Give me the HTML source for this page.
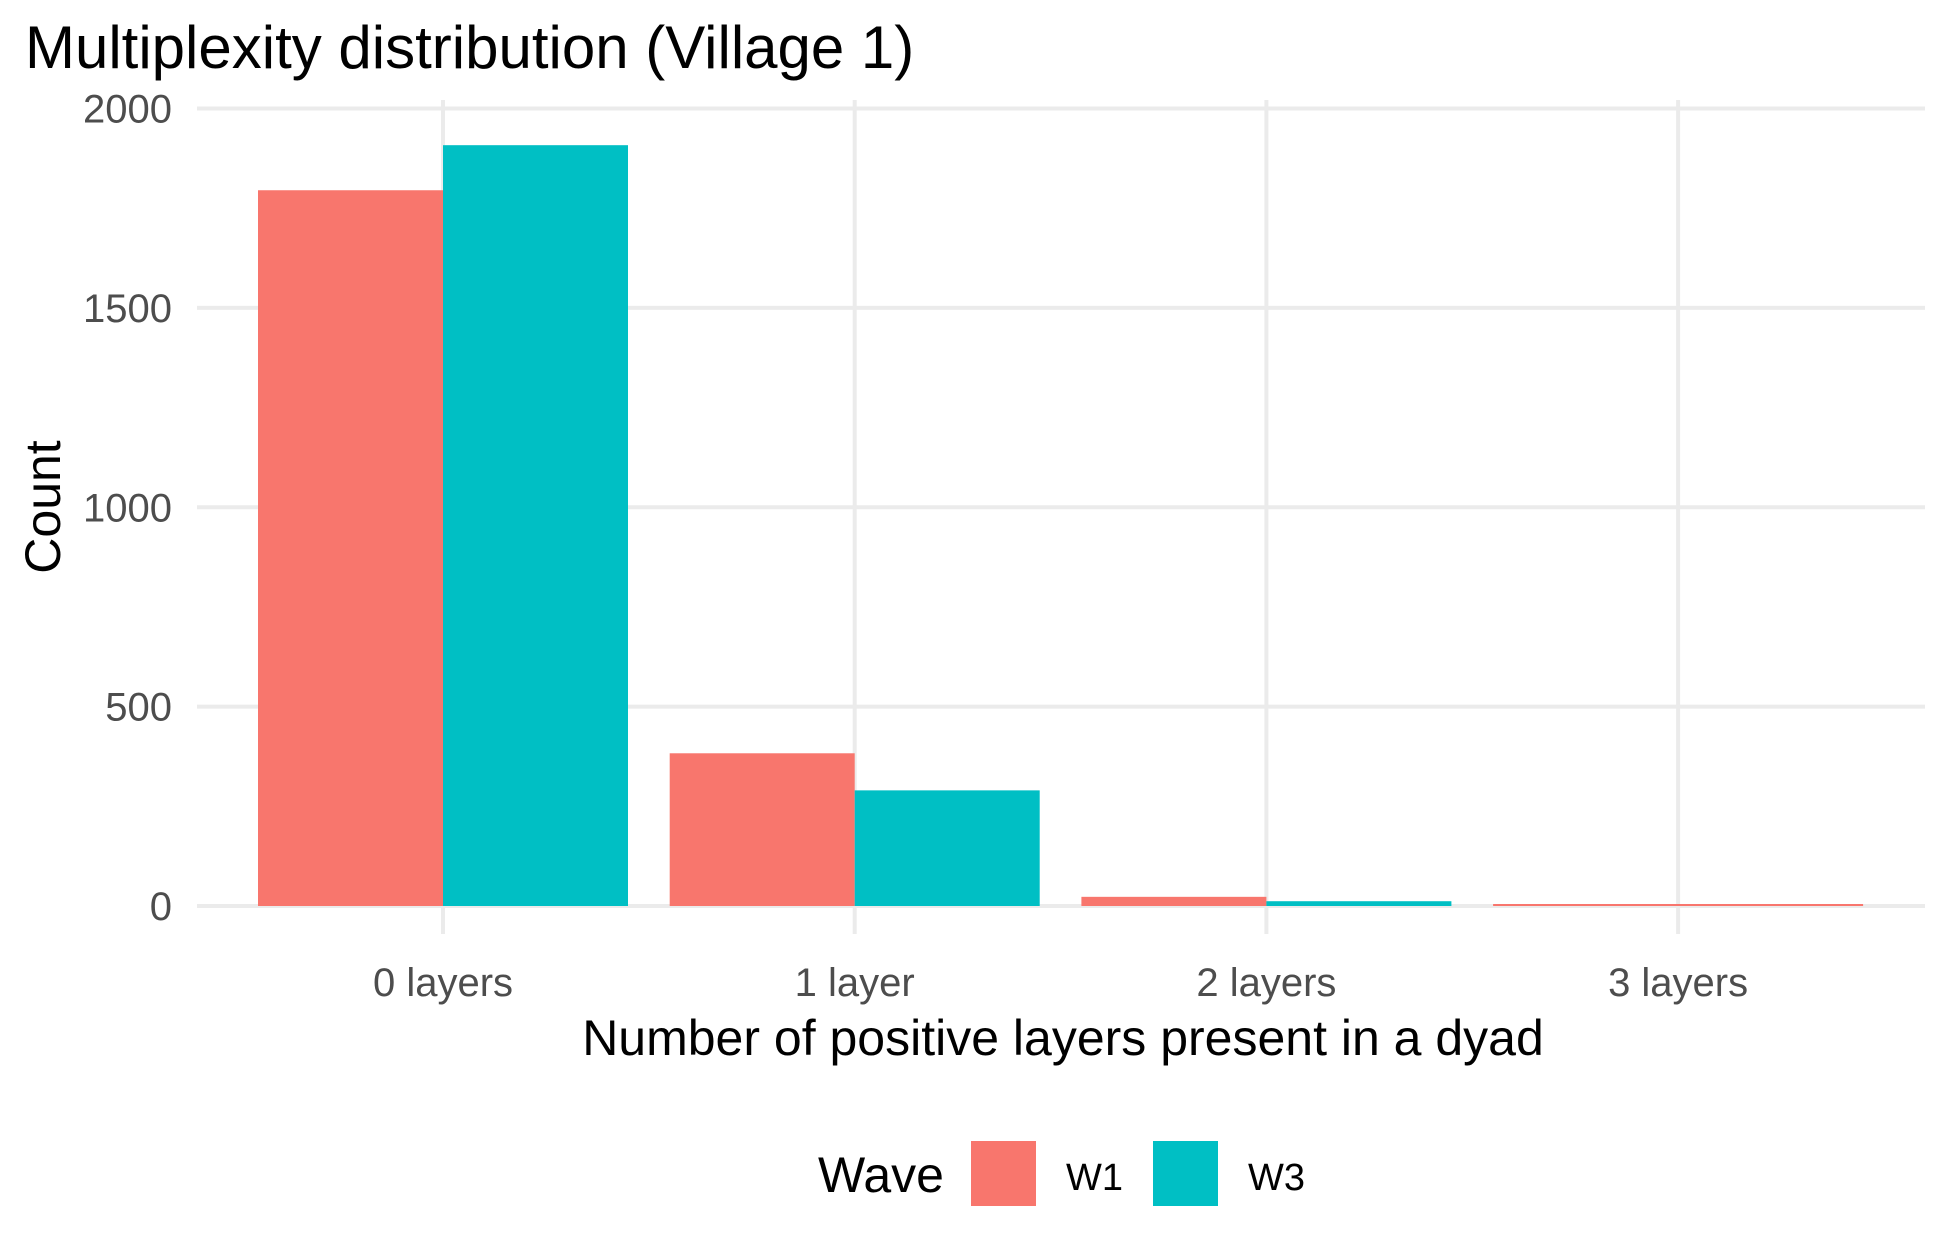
<!DOCTYPE html>
<html><head><meta charset="utf-8"><style>
body{margin:0;background:#fff}
svg{display:block;font-family:"Liberation Sans",Arial,sans-serif}
</style></head><body>
<svg id="chart" width="1950" height="1260" xmlns="http://www.w3.org/2000/svg">
<text x="25" y="68" font-size="60" fill="#000">Multiplexity distribution (Village 1)</text>
<g id="grid"></g><g id="bars"></g><g id="ticks"></g>
<text x="1063" y="1055" font-size="50" text-anchor="middle" fill="#000">Number of positive layers present in a dyad</text>
<text transform="translate(60,507) rotate(-90)" font-size="50" text-anchor="middle" fill="#000">Count</text>
<g>
<text x="818" y="1192" font-size="50" fill="#000">Wave</text>
<rect x="971" y="1141" width="65" height="65" fill="#F8766D"/>
<text x="1066" y="1190" font-size="38" fill="#000">W1</text>
<rect x="1153" y="1141" width="65" height="65" fill="#00BFC4"/>
<text x="1248" y="1190" font-size="38" fill="#000">W3</text>
</g>
</svg>
<script>
const categories = ["0 layers","1 layer","2 layers","3 layers"];
const seriesW1 = [1795, 383, 23, 5];
const seriesW3 = [1908, 290, 12, null];
const yTicks = [0, 500, 1000, 1500, 2000];
const NS="http://www.w3.org/2000/svg";
const x0=443, step=411.7, plotL=197, plotR=1925, bw=185;
function yScale(v){return 906 - v*(906-108.5)/2000;}
function xScale(i){return x0 + i*step;}
function mk(tag,attrs,parent){const e=document.createElementNS(NS,tag);for(const k in attrs)e.setAttribute(k,attrs[k]);parent.appendChild(e);return e;}
const grid=document.getElementById('grid'), bars=document.getElementById('bars'), ticks=document.getElementById('ticks');
yTicks.forEach(t=>{
  const l=mk('line',{x1:plotL,x2:plotR,y1:yScale(t),y2:yScale(t),stroke:'#ebebeb','stroke-width':4},grid);
  
  
  const tx=mk('text',{x:172,y:yScale(t)+14,'font-size':40,'text-anchor':'end',fill:'#4d4d4d'},ticks);
  tx.textContent=t;
  
  
});
categories.forEach((c,i)=>{
  const l=mk('line',{x1:xScale(i),x2:xScale(i),y1:100,y2:934,stroke:'#ebebeb','stroke-width':4},grid);
  
  
  const tx=mk('text',{x:xScale(i),y:996,'font-size':40,'text-anchor':'middle',fill:'#4d4d4d'},ticks);
  tx.textContent=c;
  
  
  const hasW3 = seriesW3[i]!==null;
  const r1=mk('rect',{x:xScale(i)-bw,y:yScale(seriesW1[i]),width:hasW3?bw:2*bw,height:yScale(0)-yScale(seriesW1[i]),fill:'#F8766D'},bars);
  
  
  if(hasW3){
    const r3=mk('rect',{x:xScale(i),y:yScale(seriesW3[i]),width:bw,height:yScale(0)-yScale(seriesW3[i]),fill:'#00BFC4'},bars);
    
    
  }
});
</script>
</body></html>
